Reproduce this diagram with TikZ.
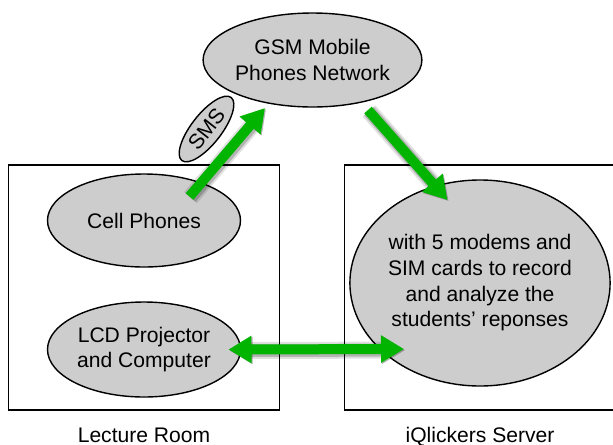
\documentclass[tikz,border=0pt]{standalone}
\usepackage{fontspec}
\setmainfont{Liberation Sans}
\usetikzlibrary{positioning,shapes.geometric,arrows.meta}
\definecolor{flowgreen}{RGB}{0,180,0}
\definecolor{blobgray}{RGB}{205,205,205}

\begin{document}
\begin{tikzpicture}[on grid,font=\fontsize{12}{14.6}\selectfont,
	blob/.style={ellipse,draw,line width=0.8pt,fill=blobgray,align=center,inner sep=0pt},
	room/.style={rectangle,draw,line width=0.8pt,minimum width=5.42cm,minimum height=4.9cm},
	flow/.style={draw=flowgreen,line width=0.2cm,-{Triangle[length=0.46cm,width=0.52cm]},
		preaction={draw=black,opacity=0.12,line width=0.34cm,transform canvas={xshift=0.6pt,yshift=-0.6pt}},
		preaction={draw=black,opacity=0.2,line width=0.26cm,transform canvas={xshift=0.6pt,yshift=-0.6pt}}},
	both/.style={{Triangle[length=0.46cm,width=0.52cm]}-{Triangle[length=0.46cm,width=0.52cm]}}]
	\useasboundingbox (0,0) rectangle (12.26,-8.88);
	\node[room] (lecture) at (2.88,-5.75) {};
	\node[room] (serverbox) at (9.6,-5.75) {};
	\node[blob,minimum width=3.86cm,minimum height=1.88cm] (gsm) at (6.25,-1.2) {GSM Mobile\\Phones Network};
	\node[blob,minimum width=1.6cm,minimum height=0.6cm,rotate=52] (sms) at (4.13,-2.58) {SMS};
	\node[blob,minimum width=3.86cm,minimum height=1.86cm] (cell) at (2.88,-4.41) {Cell Phones};
	\node[blob,minimum width=3.86cm,minimum height=1.9cm] (lcd) [below=2.58cm of cell] {LCD Projector\\and Computer};
	\node[blob,minimum width=4.52cm,minimum height=4.12cm] (iqs) at (9.6,-5.66) {with 5 modems and\\SIM cards to record\\and analyze the\\students' reponses};
	\node[anchor=base] (lecturelbl) at (2.88,-8.84) {Lecture Room};
	\node[anchor=base] (serverlbl) at (9.6,-8.84) {iQlickers Server};
	\path
	([shift={(0.91,0.48)}]cell.center) edge[flow] ([shift={(-0.95,-0.96)}]gsm.center)
	([shift={(1.11,-1.0)}]gsm.center) edge[flow] ([shift={(-0.65,1.66)}]iqs.center)
	([shift={(1.69,0)}]lcd.center) edge[flow,both] ([shift={(-1.52,-1.32)}]iqs.center);
\end{tikzpicture}
\end{document}
